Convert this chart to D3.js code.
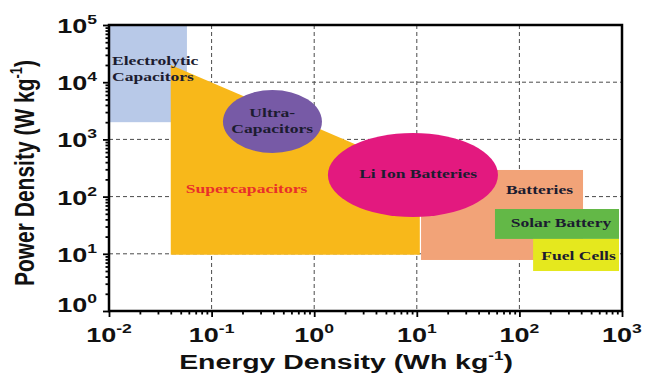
<!DOCTYPE html>
<html><head><meta charset="utf-8">
<script src="https://cdn.jsdelivr.net/npm/d3@7"></script>
<style>body{margin:0;background:#fff}</style>
</head><body><svg id="chart" width="645" height="373"></svg>
<script>
// ---- data ----
const xTicks = [1e-2, 1e-1, 1e0, 1e1, 1e2, 1e3];
const xTickExp = ["-2", "-1", "0", "1", "2", "3"];
const yTicks = [1e0, 1e1, 1e2, 1e3, 1e4, 1e5];
const yTickExp = ["0", "1", "2", "3", "4", "5"];

const rectNames = ["Electrolytic Capacitors", "Batteries", "Solar Battery", "Fuel Cells"];
const rectX0 = [0.01, 11, 57.8, 136];
const rectX1 = [0.0575, 417, 935, 935];
const rectY0 = [2000, 7.8, 18.2, 5.0];
const rectY1 = [1e5, 292, 60.7, 18.2];

const superX = [0.04, 10.7, 10.7, 0.04];
const superY = [2e4, 270, 9.6, 9.6];

const ellNames = ["Ultra-Capacitors", "Li Ion Batteries"];
const ellX0 = [0.129, 1.36];
const ellX1 = [1.19, 61.8];
const ellY0 = [578, 44];
const ellY1 = [7310, 1294];

const labelText = [["Electrolytic", "Capacitors"], ["Ultra-", "Capacitors"], ["Supercapacitors"], ["Li Ion Batteries"], ["Batteries"], ["Solar Battery"], ["Fuel Cells"]];
const labelX = [0.0107, 0.39, 0.219, 10.3, 157, 254, 377];
const labelY = [2.0e4, 2460, 116, 211, 111, 29.4, 7.8];

// ---- styles ----
const rectColors = ["#b8c9e8", "#f2a378", "#63b847", "#e5e81e"];
const superColor = "#f8b81a";
const ellColors = ["#775aa6", "#e3197f"];
const labelColors = ["#1c1c30", "#1c1c30", "#e8302a", "#1c1c30", "#1c1c30", "#1c1c30", "#1c1c30"];
const labelAnchor = ["start", "middle", "middle", "middle", "middle", "middle", "middle"];
const SX = 1.35;

const svg = d3.select("#chart");
const x = d3.scaleLog().domain([1e-2, 1e3]).range([109, 622]);
const y = d3.scaleLog().domain([1, 1e5]).range([311, 25]);

// grid
const grid = svg.append("g").attr("stroke", "#4a4a4a").attr("stroke-width", 1).attr("stroke-dasharray", "4,3");
grid.selectAll(".gx").data(xTicks.slice(1, -1)).join("line")
  .attr("x1", d => x(d)).attr("x2", d => x(d)).attr("y1", y(1e5)).attr("y2", y(1));
grid.selectAll(".gy").data(yTicks.slice(1, -1)).join("line")
  .attr("y1", d => y(d)).attr("y2", d => y(d)).attr("x1", x(1e-2)).attr("x2", x(1e3));

function drawRect(i) {
  svg.append("rect")
    .attr("x", x(rectX0[i])).attr("width", x(rectX1[i]) - x(rectX0[i]))
    .attr("y", y(rectY1[i])).attr("height", y(rectY0[i]) - y(rectY1[i]))
    .attr("fill", rectColors[i]);
}
function drawEll(i) {
  svg.append("ellipse")
    .attr("cx", (x(ellX0[i]) + x(ellX1[i])) / 2)
    .attr("cy", (y(ellY0[i]) + y(ellY1[i])) / 2)
    .attr("rx", (x(ellX1[i]) - x(ellX0[i])) / 2)
    .attr("ry", (y(ellY0[i]) - y(ellY1[i])) / 2)
    .attr("fill", ellColors[i]);
}

drawRect(0);
svg.append("polygon")
  .attr("points", superX.map((v, i) => [x(v), y(superY[i])].join(",")).join(" "))
  .attr("fill", superColor);
drawRect(1);
drawEll(0);
drawEll(1);
drawRect(2);
drawRect(3);

// region labels
labelText.forEach((lines, i) => {
  const g = svg.append("g")
    .attr("transform", `translate(${x(labelX[i])},${y(labelY[i])}) scale(${SX},1)`);
  const t = g.append("text")
    .attr("font-family", "'Liberation Serif', 'Times New Roman', serif")
    .attr("font-weight", "bold").attr("font-size", 13)
    .attr("fill", labelColors[i]).attr("text-anchor", labelAnchor[i]);
  lines.forEach((ln, k) => t.append("tspan").attr("x", 0).attr("y", k * 16).text(ln));
});

// axes ticks
const minor = [];
for (let e = -2; e < 3; e++) for (let m = 2; m < 10; m++) minor.push(m * Math.pow(10, e));
const minorY = [];
for (let e = 0; e < 5; e++) for (let m = 2; m < 10; m++) minorY.push(m * Math.pow(10, e));

const ax = svg.append("g").attr("transform", `translate(0,${y(1)})`)
  .call(d3.axisBottom(x).tickValues(xTicks).tickFormat("").tickSize(6));
const axm = svg.append("g").attr("transform", `translate(0,${y(1)})`)
  .call(d3.axisBottom(x).tickValues(minor).tickFormat("").tickSize(3.5));
const ay = svg.append("g").attr("transform", `translate(${x(1e-2)},0)`)
  .call(d3.axisLeft(y).tickValues(yTicks).tickFormat("").tickSize(6));
const aym = svg.append("g").attr("transform", `translate(${x(1e-2)},0)`)
  .call(d3.axisLeft(y).tickValues(minorY).tickFormat("").tickSize(3.5));
[ax, axm, ay, aym].forEach(a => {
  a.select(".domain").remove();
  a.selectAll("line").attr("stroke", "#000").attr("stroke-width", 1.8);
});

svg.append("rect")
  .attr("x", x(1e-2)).attr("y", y(1e5))
  .attr("width", x(1e3) - x(1e-2)).attr("height", y(1) - y(1e5))
  .attr("fill", "none").attr("stroke", "#000").attr("stroke-width", 2.5);

const sans = "'Liberation Sans', Arial, Helvetica, sans-serif";
function powLabel(px, py, exp, anchor) {
  const g = svg.append("g").attr("transform", `translate(${px},${py}) scale(${SX},1)`);
  const t = g.append("text").attr("font-family", sans).attr("font-weight", "bold")
    .attr("font-size", 20).attr("fill", "#111").attr("text-anchor", anchor);
  t.append("tspan").text("10");
  t.append("tspan").attr("font-size", 13).attr("dy", -9).text(exp);
}
xTicks.forEach((d, i) => powLabel(x(d), y(1) + 31, xTickExp[i], "middle"));
yTicks.forEach((d, i) => powLabel(x(1e-2) - 12, y(d) + (i === 0 ? 1 : 8), yTickExp[i], "end"));

// axis titles
{
  const g = svg.append("g").attr("transform", `translate(346,369) scale(1.42,1)`);
  const t = g.append("text").attr("font-family", sans).attr("font-weight", "bold")
    .attr("font-size", 20).attr("fill", "#111").attr("text-anchor", "middle");
  t.append("tspan").text("Energy Density (Wh kg");
  t.append("tspan").attr("font-size", 12).attr("dy", -9).text("-1");
  t.append("tspan").attr("dy", 9).text(")");
}
{
  const g = svg.append("g").attr("transform", `translate(34,173) scale(1.3,1) rotate(-90)`);
  const t = g.append("text").attr("font-family", sans).attr("font-weight", "bold")
    .attr("font-size", 21).attr("fill", "#111").attr("text-anchor", "middle");
  t.append("tspan").text("Power Density (W kg");
  t.append("tspan").attr("font-size", 13).attr("dy", -9).text("-1");
  t.append("tspan").attr("dy", 9).text(")");
}
</script></body></html>
